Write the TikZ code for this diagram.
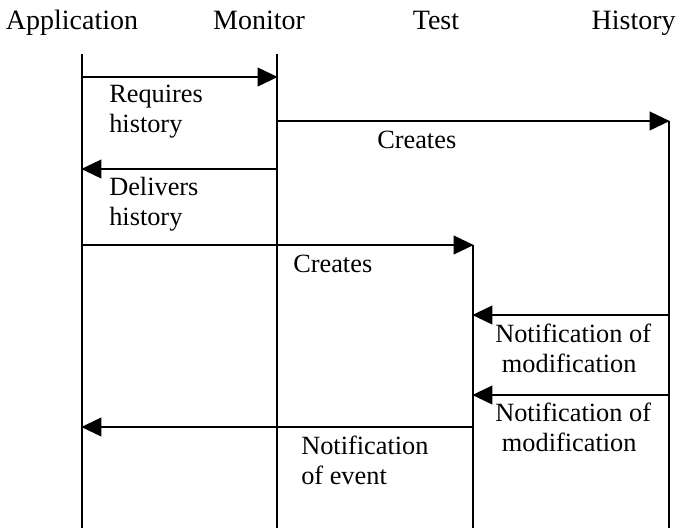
\documentclass[tikz,border=0pt]{standalone}
\usepackage{fontspec}
\setmainfont{Liberation Serif}
\usetikzlibrary{arrows.meta}

\tikzset{
  head/.style={anchor=base, inner sep=0pt, font=\fontsize{21pt}{25pt}\selectfont},
  lbl/.style={anchor=base west, inner sep=0pt, align=left,
    font=\fontsize{19.75pt}{22.5pt}\selectfont},
  life/.style={line width=1.4pt},
  msg/.style={line width=1.4pt, -{Triangle[length=15pt,width=14pt]}, shorten >=-0.5pt},
}

\begin{document}
\begin{tikzpicture}[x=0.75pt, y=-0.75pt]
  \useasboundingbox (0,0) rectangle (677,528);

  % participants
  \node[head] (app)  at (72,30)  {Application};
  \node[head] (mon)  at (259,30) {Monitor};
  \node[head] (tst)  at (436,30) {Test};
  \node[head, anchor=base east] (hist) at (676,30) {History};

  % lifeline ends
  \coordinate (appT)  at (82,54);   \coordinate (appB)  at (82,528);
  \coordinate (monT)  at (277,54);  \coordinate (monB)  at (277,528);
  \coordinate (tstT)  at (473,245); \coordinate (tstB)  at (473,528);
  \coordinate (histT) at (669,121); \coordinate (histB) at (669,528);

  \draw[life] (appT) -- (appB);
  \draw[life] (monT) -- (monB);
  \draw[life] (tstT) -- (tstB);
  \draw[life] (histT) -- (histB);

  % message end points on the lifelines
  \coordinate (m1a) at (82,77);   \coordinate (m1b) at (277,77);
  \coordinate (m2a) at (277,121); \coordinate (m2b) at (669,121);
  \coordinate (m3a) at (277,169); \coordinate (m3b) at (82,169);
  \coordinate (m4a) at (82,245);  \coordinate (m4b) at (473,245);
  \coordinate (m5a) at (669,315); \coordinate (m5b) at (473,315);
  \coordinate (m6a) at (669,395); \coordinate (m6b) at (473,395);
  \coordinate (m7a) at (473,427); \coordinate (m7b) at (82,427);

  \draw[msg] (m1a) -- (m1b);
  \draw[msg] (m2a) -- (m2b);
  \draw[msg] (m3a) -- (m3b);
  \draw[msg] (m4a) -- (m4b);
  \draw[msg] (m5a) -- (m5b);
  \draw[msg] (m6a) -- (m6b);
  \draw[msg] (m7a) -- (m7b);

  % message labels (anchored at the baseline of their last line)
  \node[lbl] (l1) at (109,132) {Requires\\history};
  \node[lbl] (l2) at (377,148) {Creates};
  \node[lbl] (l3) at (109,225) {Delivers\\history};
  \node[lbl] (l4) at (293,272) {Creates};
  \node[lbl] (l5) at (495,372) {Notification of\\\hspace{5pt}modification};
  \node[lbl] (l6) at (495,451) {Notification of\\\hspace{5pt}modification};
  \node[lbl] (l7) at (301,484) {Notification\\of event};
\end{tikzpicture}
\end{document}
